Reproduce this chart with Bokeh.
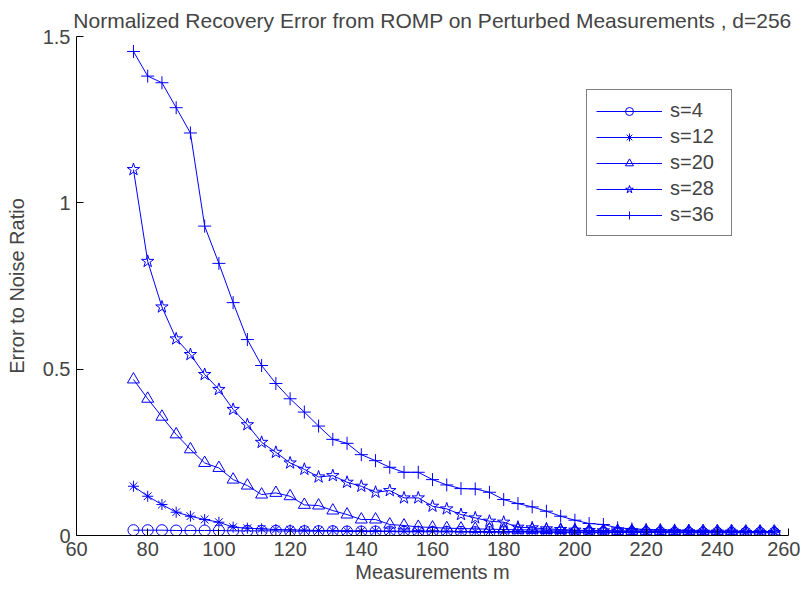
from bokeh.plotting import figure
from bokeh.models import FixedTicker, Legend, LegendItem
from bokeh.embed import file_html
from bokeh.resources import INLINE

# ---- data ----
m = [76, 80, 84, 88, 92, 96, 100, 104, 108, 112, 116, 120, 124, 128, 132, 136,
     140, 144, 148, 152, 156, 160, 164, 168, 172, 176, 180, 184, 188, 192, 196,
     200, 204, 208, 212, 216, 220, 224, 228, 232, 236, 240, 244, 248, 252, 256]

s4 = [0.016, 0.016, 0.016, 0.015, 0.015, 0.015, 0.015, 0.014, 0.014, 0.014,
      0.014, 0.013, 0.013, 0.013, 0.013, 0.012, 0.012, 0.012, 0.012, 0.011,
      0.011, 0.011, 0.011, 0.011, 0.010, 0.010, 0.010, 0.010, 0.010, 0.010,
      0.009, 0.009, 0.009, 0.009, 0.009, 0.009, 0.009, 0.009, 0.008, 0.008,
      0.008, 0.008, 0.008, 0.008, 0.008, 0.008]

s12 = [0.148, 0.118, 0.093, 0.070, 0.058, 0.048, 0.040, 0.025, 0.022, 0.020,
       0.018, 0.017, 0.016, 0.015, 0.015, 0.014, 0.014, 0.014, 0.013, 0.013,
       0.013, 0.013, 0.013, 0.012, 0.012, 0.012, 0.012, 0.012, 0.012, 0.011,
       0.011, 0.011, 0.011, 0.011, 0.011, 0.011, 0.010, 0.010, 0.010, 0.010,
       0.010, 0.010, 0.010, 0.010, 0.010, 0.010]

s20 = [0.469, 0.411, 0.357, 0.304, 0.259, 0.218, 0.203, 0.168, 0.150, 0.123,
       0.128, 0.118, 0.092, 0.090, 0.075, 0.063, 0.048, 0.048, 0.033, 0.030,
       0.026, 0.024, 0.022, 0.021, 0.020, 0.019, 0.018, 0.017, 0.017, 0.016,
       0.016, 0.015, 0.015, 0.015, 0.014, 0.014, 0.014, 0.014, 0.013, 0.013,
       0.013, 0.013, 0.013, 0.012, 0.012, 0.012]

s28 = [1.100, 0.824, 0.687, 0.591, 0.544, 0.484, 0.439, 0.379, 0.333, 0.280,
       0.250, 0.218, 0.199, 0.176, 0.180, 0.160, 0.148, 0.130, 0.135, 0.113,
       0.113, 0.088, 0.080, 0.063, 0.053, 0.043, 0.040, 0.025, 0.023, 0.020,
       0.018, 0.016, 0.015, 0.014, 0.013, 0.013, 0.012, 0.012, 0.011, 0.011,
       0.010, 0.010, 0.010, 0.009, 0.009, 0.009]

s36 = [1.455, 1.381, 1.361, 1.286, 1.210, 0.930, 0.818, 0.700, 0.589, 0.511,
       0.457, 0.411, 0.371, 0.329, 0.289, 0.277, 0.243, 0.225, 0.205, 0.190,
       0.190, 0.168, 0.152, 0.141, 0.140, 0.130, 0.108, 0.096, 0.086, 0.073,
       0.058, 0.046, 0.036, 0.033, 0.023, 0.020, 0.018, 0.017, 0.016, 0.015,
       0.014, 0.013, 0.013, 0.012, 0.012, 0.011]

series_labels = ["s=4", "s=12", "s=20", "s=28", "s=36"]
series_values = [s4, s12, s20, s28, s36]
series_markers = ["circle", "asterisk", "triangle", "star", "cross"]
marker_sizes = [11, 11, 12, 13, 13]

x_ticks = [60, 80, 100, 120, 140, 160, 180, 200, 220, 240, 260]
y_ticks = [0, 0.5, 1, 1.5]
y_tick_labels = {0: "0", 0.5: "0.5", 1: "1", 1.5: "1.5"}

title_text = "Normalized Recovery Error from ROMP on Perturbed Measurements , d=256"
FONT = "Liberation Sans"
BLUE = "#0000FF"

p = figure(width=800, height=588, output_backend="svg", toolbar_location=None,
           x_range=(60, 260), y_range=(0, 1.5),
           min_border_left=76, min_border_right=12, min_border_top=36,
           min_border_bottom=53, title=title_text)
p.outline_line_color = None
p.grid.visible = False
p.background_fill_color = "white"
p.border_fill_color = "white"

p.title.text_font = FONT
p.title.text_font_size = "21px"
p.title.text_font_style = "normal"
p.title.align = "center"
p.title.standoff = 9

for ax in (p.xaxis[0], p.yaxis[0]):
    ax.major_tick_in = 7
    ax.major_tick_out = 0
    ax.minor_tick_line_color = None
    ax.axis_line_color = "black"
    ax.major_tick_line_color = "black"
    ax.major_label_text_font = FONT
    ax.major_label_text_font_size = "20px"
    ax.axis_label_text_font = FONT
    ax.axis_label_text_font_size = "20px"
    ax.axis_label_text_font_style = "normal"
    ax.major_label_standoff = 6

p.xaxis.ticker = FixedTicker(ticks=x_ticks)
p.yaxis.ticker = FixedTicker(ticks=y_ticks)
p.yaxis.major_label_overrides = y_tick_labels
p.xaxis.axis_label = "Measurements m"
p.yaxis.axis_label = "Error to Noise Ratio"
p.xaxis.axis_label_standoff = 2
p.yaxis.axis_label_standoff = 12

items = []
for lab, vals, mk, sz in zip(series_labels, series_values, series_markers, marker_sizes):
    r1 = p.line(m, vals, line_color=BLUE, line_width=1)
    r2 = p.scatter(m, vals, marker=mk, size=sz, line_color=BLUE, fill_color=None,
                   line_width=1)
    items.append(LegendItem(label=lab, renderers=[r1, r2]))

legend = Legend(items=items, location=(510, 299))
legend.border_line_color = "black"
legend.border_line_width = 1
legend.background_fill_color = "white"
legend.background_fill_alpha = 1
legend.label_text_font = FONT
legend.label_text_font_size = "20px"
legend.glyph_width = 66
legend.glyph_height = 20
legend.label_height = 20
legend.label_width = 52
legend.label_standoff = 8
legend.spacing = 3
legend.padding = 9
legend.margin = 0
p.add_layout(legend)

open("out.html", "w").write(file_html(p, INLINE))
